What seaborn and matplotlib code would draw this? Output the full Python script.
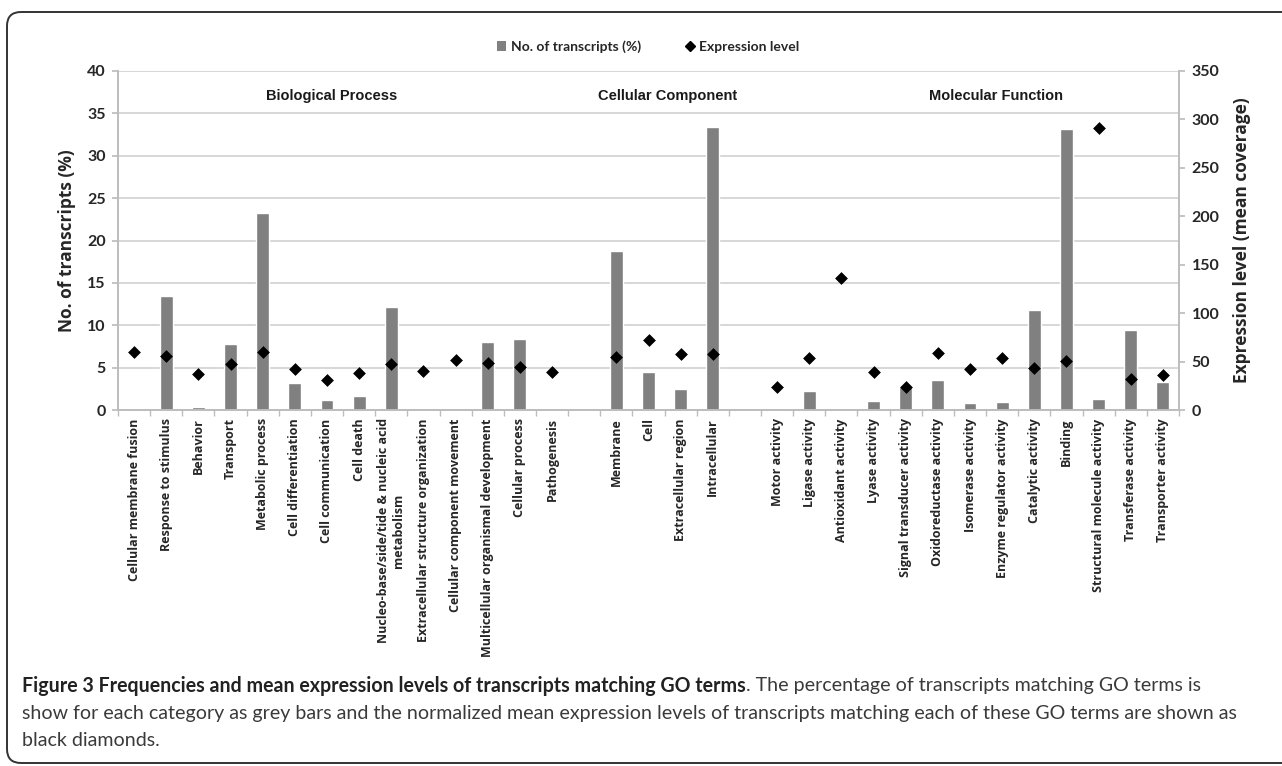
import numpy as np
import pandas as pd
import seaborn as sns
import matplotlib.pyplot as plt
from matplotlib.patches import FancyBboxPatch, Patch
from matplotlib.lines import Line2D

# GO categories, % of transcripts (bars) and mean coverage (diamonds)
bp_terms = ["Cellular membrane fusion", "Response to stimulus", "Behavior", "Transport",
            "Metabolic process", "Cell differentiation", "Cell communication", "Cell death",
            "Nucleo-base/side/tide & nucleic acid\nmetabolism", "Extracellular structure organization",
            "Cellular component movement", "Multicellular organismal development",
            "Cellular process", "Pathogenesis"]
bp_pct = [0.1, 13.4, 0.3, 7.8, 23.2, 3.2, 1.2, 1.65, 12.1, 0.05, 0.25, 8.0, 8.4, 0.0]
bp_expr = [60, 55.5, 37.5, 47.5, 60, 42.4, 30.7, 38.2, 47.2, 40, 51.3, 48.6, 44.4, 38.9]

cc_terms = ["Membrane", "Cell", "Extracellular region", "Intracellular"]
cc_pct = [18.75, 4.5, 2.5, 33.4]
cc_expr = [54.8, 72.7, 57.5, 58.2]

mf_terms = ["Motor activity", "Ligase activity", "Antioxidant activity", "Lyase activity",
            "Signal transducer activity", "Oxidoreductase activity", "Isomerase activity",
            "Enzyme regulator activity", "Catalytic activity", "Binding",
            "Structural molecule activity", "Transferase activity", "Transporter activity"]
mf_pct = [0.25, 2.25, 0.05, 1.1, 2.7, 3.5, 0.8, 1.0, 11.75, 33.2, 1.35, 9.45, 3.25]
mf_expr = [24.1, 53.7, 136, 38.9, 24.1, 59.3, 42.7, 53.7, 43.4, 50.7, 291.5, 32.2, 36.3]

group_names = ["Biological Process", "Cellular Component", "Molecular Function"]

# one empty slot between the groups
terms = bp_terms + [""] + cc_terms + [""] + mf_terms
pct = bp_pct + [np.nan] + cc_pct + [np.nan] + mf_pct
expr = bp_expr + [np.nan] + cc_expr + [np.nan] + mf_expr
df = pd.DataFrame({"slot": range(len(terms)), "term": terms, "pct": pct, "expr": expr})
n = len(df)

sns.set_theme(style="white")
plt.rcParams["font.family"] = ["Lato", "DejaVu Sans"]

fig = plt.figure(figsize=(12.82, 7.66), dpi=100)
ax = fig.add_axes([118/1282, 1-410/766, (1179-118)/1282, (410-71)/766])

sns.barplot(data=df, x="slot", y="pct", order=list(range(n)), color="#808080",
            saturation=1, width=0.4, errorbar=None, ax=ax, zorder=2)
ax.set_ylim(0, 40)
ax.set_yticks(np.arange(0, 41, 5))
ax.yaxis.grid(True, color="#d4d4d4", lw=1.3)
ax.set_axisbelow(True)

ax2 = ax.twinx()
sns.scatterplot(data=df, x="slot", y="expr", marker="D", color="black", s=36,
                edgecolor="black", linewidth=0.5, ax=ax2, legend=False, zorder=5)
ax2.set_ylim(0, 350)
ax2.set_yticks(np.arange(0, 351, 50))
ax2.grid(False)

ax.set_xlim(-0.5, n - 0.5)
ax.set_xticks(np.arange(-0.5, n, 1.0))
ax.set_xticklabels([])
ax.set_xticks(df["slot"], df["term"], minor=True, rotation=90,
              fontsize=9.0, fontweight="bold", family="Open Sans",
              multialignment="center")
ax.tick_params(axis="x", which="major", length=4, width=1, color="#bdbdbd", direction="out", bottom=True)
ax.tick_params(axis="x", which="minor", length=0, pad=6)

for a in (ax, ax2):
    for s in a.spines.values():
        s.set_color("#bdbdbd")
        s.set_linewidth(1.2)
    a.spines["top"].set_visible(False)
    a.set_xlabel("")
ax.tick_params(axis="y", length=4, color="#bdbdbd", left=True, labelsize=11.5, pad=5)
ax2.tick_params(axis="y", length=4, color="#bdbdbd", right=True, labelsize=11.5, pad=5)
for t in ax.get_yticklabels() + ax2.get_yticklabels():
    t.set_fontweight("bold")

ax.set_ylabel("No. of transcripts (%)", fontsize=12.5, fontweight="bold", family="Open Sans", labelpad=8)
ax2.set_ylabel("Expression level (mean coverage)", fontsize=12.5, fontweight="bold", family="Open Sans", labelpad=10)

# group titles
for name, xpos in zip(group_names, [6.13, 16.6, 26.8]):
    ax.text(xpos, 37.1, name, ha="center", va="center", fontsize=10.5, fontweight="bold",
            family="Liberation Sans", color="#1a1a1a")

handles = [Patch(facecolor="#808080", edgecolor="none", label="No. of transcripts (%)"),
           Line2D([], [], marker="D", color="black", linestyle="None", markersize=5,
                  label="Expression level")]
fig.legend(handles=handles, loc="center", bbox_to_anchor=(648/1282, 1-47/766), ncol=2,
           frameon=False, prop={"weight": "bold", "size": 10}, columnspacing=3.2,
           handlelength=0.7, handleheight=0.7, handletextpad=0.3)

# frame around the figure
frame = FancyBboxPatch((7, 3), 1320, 751, boxstyle="round,pad=0,rounding_size=14",
                       transform=None, fill=False, edgecolor="#333333", lw=1.4, clip_on=False)
fig.patches.append(frame)

# caption
cap_bold = "Figure 3 Frequencies and mean expression levels of transcripts matching GO terms"
cap_rest = [". The percentage of transcripts matching GO terms is",
            "show for each category as grey bars and the normalized mean expression levels of transcripts matching each of these GO terms are shown as",
            "black diamonds."]
x0 = 22 / 1282
ys = [1 - 686/766, 1 - 713/766, 1 - 740/766]
fs = 14
renderer = fig.canvas.get_renderer()
t2 = fig.text(x0, ys[1], cap_rest[1], fontsize=fs, va="center", color="#3a3a3a")
bb_line2 = t2.get_window_extent(renderer)
fs = fs * (1240 - 22) / bb_line2.width
t2.set_fontsize(fs)
tb = fig.text(x0, ys[0], cap_bold, fontsize=fs, fontweight="bold", va="center", color="#222222")
bb = tb.get_window_extent(renderer)
fig.text(bb.x1 / 1282, ys[0], cap_rest[0], fontsize=fs, va="center", color="#3a3a3a")
fig.text(x0, ys[2], cap_rest[2], fontsize=fs, va="center", color="#3a3a3a")

fig.savefig("out.png", dpi=100, facecolor="white")
